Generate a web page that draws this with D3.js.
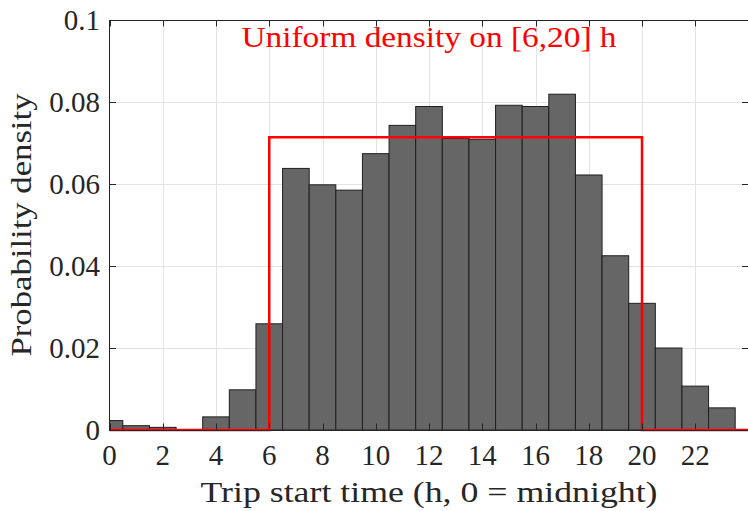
<!DOCTYPE html>
<html>
<head>
<meta charset="utf-8">
<script src="https://cdn.jsdelivr.net/npm/d3@7"></script>
<style>
  html, body { margin: 0; padding: 0; background: #fff; }
  svg { display: block; }
  text { font-family: "Liberation Serif", "Times New Roman", serif; fill: #262626; }
</style>
</head>
<body>
<svg id="chart" width="748" height="511"></svg>
<script>
// ---- data ----
const binCenters = [0,1,2,3,4,5,6,7,8,9,10,11,12,13,14,15,16,17,18,19,20,21,22,23];
const density = [0.0023,0.00105,0.00065,0.0001,0.0032,0.0098,0.0259,0.0638,0.0598,0.0585,0.0674,0.0743,
                 0.0789,0.0711,0.0709,0.0792,0.0789,0.0819,0.0622,0.0425,0.0309,0.0200,0.0107,0.0054];
const binWidth = 1;
const uniformX = [0, 6, 6, 20, 20, 24];
const uniformY = [0, 0, 1/14, 1/14, 0, 0];
const xTicks = [0,2,4,6,8,10,12,14,16,18,20,22];
const yTicks = [0,0.02,0.04,0.06,0.08,0.1];
const titleText = "Uniform density on [6,20] h";
const xLabel = "Trip start time (h, 0 = midnight)";
const yLabel = "Probability density";

// ---- layout ----
const L = 109.5, R = 748.5, T = 20, B = 430;
const svg = d3.select("#chart");
const x = d3.scaleLinear().domain([0, 24]).range([L, R]);
const y = d3.scaleLinear().domain([0, 0.1]).range([B, T]);
const axisColor = "#262626";
const tickLen = 6.5;

svg.append("defs").append("clipPath").attr("id", "clip")
  .append("rect").attr("x", L).attr("y", T).attr("width", R - L).attr("height", B - T);

// grid
const grid = svg.append("g");
grid.selectAll(".gx").data(xTicks.filter(d => d > 0)).enter().append("line")
  .attr("x1", d => Math.round(x(d)) + 0.5).attr("x2", d => Math.round(x(d)) + 0.5)
  .attr("y1", T).attr("y2", B).attr("stroke", "#e3e3e3").attr("stroke-width", 1);
grid.selectAll(".gy").data(yTicks.filter(d => d > 0 && d < 0.1)).enter().append("line")
  .attr("y1", d => Math.round(y(d)) + 0.5).attr("y2", d => Math.round(y(d)) + 0.5)
  .attr("x1", L).attr("x2", R).attr("stroke", "#e3e3e3").attr("stroke-width", 1);

// bars
const plot = svg.append("g").attr("clip-path", "url(#clip)");
plot.selectAll(".bar").data(binCenters).enter().append("rect")
  .attr("x", (d) => x(d - binWidth / 2))
  .attr("width", x(binWidth) - x(0))
  .attr("y", (d, i) => y(density[i]))
  .attr("height", (d, i) => B - y(density[i]))
  .attr("fill", "#666666")
  .attr("stroke", "#1f1f1f")
  .attr("stroke-width", 1);

// uniform density line
const line = d3.line().x(d => x(d[0])).y(d => y(d[1]));
svg.append("path")
  .datum(uniformX.map((v, i) => [v, uniformY[i]]))
  .attr("d", line)
  .attr("fill", "none").attr("stroke", "#ff0000").attr("stroke-width", 2.5);

// axes (box)
const ax = svg.append("g");
ax.append("rect").attr("x", L).attr("y", T + 0.5).attr("width", R - L).attr("height", B - T)
  .attr("fill", "none").attr("stroke", axisColor).attr("stroke-width", 1);

// x ticks bottom & top
xTicks.forEach(t => {
  const xx = Math.round(x(t)) + 0.5;
  ax.append("line").attr("x1", xx).attr("x2", xx).attr("y1", B).attr("y2", B - tickLen)
    .attr("stroke", axisColor);
  ax.append("line").attr("x1", xx).attr("x2", xx).attr("y1", T).attr("y2", T + tickLen)
    .attr("stroke", axisColor);
  ax.append("text").attr("x", x(t)).attr("y", 465).attr("text-anchor", "middle")
    .style("font-size", "29px").text(t);
});
// y ticks left & right
yTicks.forEach(t => {
  const yy = Math.round(y(t)) + 0.5;
  ax.append("line").attr("x1", L).attr("x2", L + tickLen).attr("y1", yy).attr("y2", yy)
    .attr("stroke", axisColor);
  ax.append("line").attr("x1", R - tickLen).attr("x2", R).attr("y1", yy).attr("y2", yy)
    .attr("stroke", axisColor);
  ax.append("text").attr("x", 100).attr("y", y(t)).attr("dy", "0.34em").attr("text-anchor", "end")
    .style("font-size", "29px").text(d3.format("~g")(t));
});

// labels
svg.append("text").attr("x", (L + R) / 2).attr("y", 502).attr("text-anchor", "middle")
  .style("font-size", "29px").attr("textLength", 457).attr("lengthAdjust", "spacingAndGlyphs")
  .text(xLabel);
svg.append("text").attr("transform", `translate(31,${(T + B) / 2}) rotate(-90)`)
  .attr("text-anchor", "middle")
  .style("font-size", "29px").attr("textLength", 263).attr("lengthAdjust", "spacingAndGlyphs")
  .text(yLabel);
svg.append("text").attr("x", (L + R) / 2).attr("y", 47).attr("text-anchor", "middle")
  .style("font-size", "29px").style("fill", "#ff0000")
  .attr("textLength", 375).attr("lengthAdjust", "spacingAndGlyphs")
  .text(titleText);
</script>
</body>
</html>
